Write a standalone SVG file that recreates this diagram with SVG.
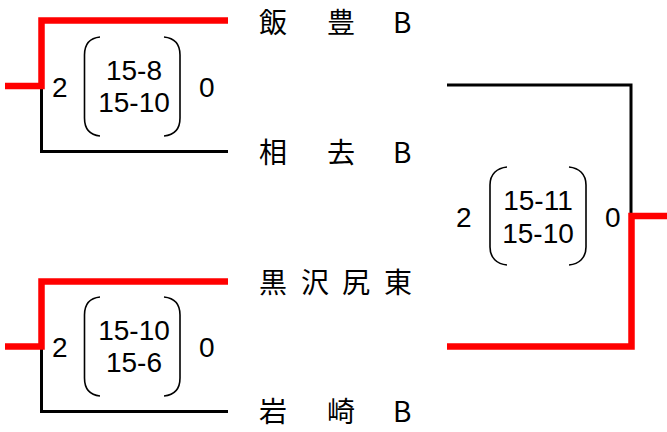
<svg xmlns="http://www.w3.org/2000/svg" width="667" height="432" viewBox="0 0 667 432">
<style>
.win{fill:none;stroke:#ff0000;stroke-width:6.5;stroke-linejoin:miter}
.lose{fill:none;stroke:#000;stroke-width:3;stroke-linejoin:miter}
.par{fill:none;stroke:#000;stroke-width:1.6}
.sc{font-family:"Liberation Sans",Arial,sans-serif;font-size:28px;fill:#000}
.nm{font-family:"Noto Sans CJK JP","Noto Sans",sans-serif;font-size:28px;fill:#000}
</style>
<rect width="667" height="432" fill="#fff"/>
<g id="connectors">
<path class="lose" d="M41.5,86 V151.5 H228"/>
<path class="win" d="M5,86 H41.5 V20.5 H228"/>
<path class="lose" d="M41.5,346.5 V411.5 H228"/>
<path class="win" d="M5,346.5 H41.5 V281.5 H228"/>
<path class="lose" d="M447,85 H631 V216"/>
<path class="win" d="M447,346.5 H631.5 V216 H667"/>
</g>
<g id="team1"><text class="nm" y="33"><tspan x="259">飯</tspan><tspan x="327">豊</tspan><tspan x="393">B</tspan></text></g>
<g id="team2"><text class="nm" y="163"><tspan x="259">相</tspan><tspan x="327">去</tspan><tspan x="393">B</tspan></text></g>
<g id="team3"><text class="nm" y="293"><tspan x="259">黒</tspan><tspan x="301">沢</tspan><tspan x="342">尻</tspan><tspan x="384">東</tspan></text></g>
<g id="team4"><text class="nm" y="422"><tspan x="259">岩</tspan><tspan x="327">崎</tspan><tspan x="393">B</tspan></text></g>
<g id="match1">
<text class="sc" x="52" y="97">2</text>
<text class="sc" x="199" y="97">0</text>
<path class="par" d="M100,37 C90,38 84.5,44 84.5,55 V118 C84.5,129 90,135 100,136"/>
<path class="par" d="M164,37 C174,38 180,44 180,55 V118 C180,129 174,135 164,136"/>
<text class="sc" x="134" y="80" text-anchor="middle">15-8</text>
<text class="sc" x="134" y="112" text-anchor="middle">15-10</text>
</g>
<g id="match2">
<text class="sc" x="52" y="357">2</text>
<text class="sc" x="199" y="357">0</text>
<path class="par" d="M100,297 C90,298 84.5,304 84.5,315 V378 C84.5,389 90,395 100,396"/>
<path class="par" d="M164,297 C174,298 180,304 180,315 V378 C180,389 174,395 164,396"/>
<text class="sc" x="134" y="340" text-anchor="middle">15-10</text>
<text class="sc" x="134" y="372" text-anchor="middle">15-6</text>
</g>
<g id="final">
<text class="sc" x="456" y="227">2</text>
<text class="sc" x="605" y="227">0</text>
<path class="par" d="M507,167 C497,168 490,174 490,185 V247 C490,258 497,264 507,265"/>
<path class="par" d="M569,167 C579,168 586,174 586,185 V247 C586,258 579,264 569,265"/>
<text class="sc" x="538" y="210" text-anchor="middle">15-11</text>
<text class="sc" x="538" y="243" text-anchor="middle">15-10</text>
</g>
</svg>
